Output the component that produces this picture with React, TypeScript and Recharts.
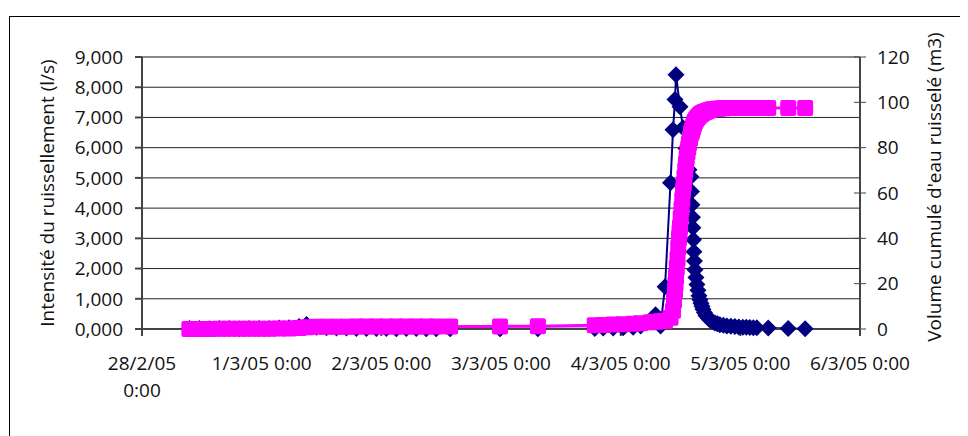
import React from "react";
import {
  LineChart,
  Line,
  XAxis,
  YAxis,
  CartesianGrid,
  ReferenceLine,
} from "recharts";

// hours since 28/2/05 0:00
const times = [
  9.5, 11.5, 13.5, 15.5, 17.5, 19.5, 21.5, 23.5, 25.5, 27.5, 29.5, 31.5, 33, 35,
  37, 39, 41, 43, 45, 47, 49, 51, 53, 55, 57, 59, 61.8,
  71.8, 79.4,
  90.8, 92.5, 94.5, 96.5, 98.5, 100, 102, 103, 104,
  104.9, 106, 106.5, 106.7, 106.9, 107, 107.1, 107.25, 107.4, 107.55, 107.7,
  107.8, 107.9, 108.05, 108.2, 108.35, 108.5, 108.65, 108.8, 108.95, 109.1,
  109.25, 109.4, 109.55, 109.7, 109.9, 110.1, 110.2, 110.3, 110.4, 110.5, 110.6,
  110.7, 110.8, 110.9, 111.1, 111.3, 111.5, 111.7, 111.9, 112.1, 112.3, 112.5,
  112.8, 113.1, 113.5, 113.9, 114.4, 114.9, 115.4, 115.9, 116.6, 117.3, 118.1,
  118.9, 119.7, 120.5, 121.2, 121.9, 122.6, 123.3, 125.6, 129.6, 133,
];

// intensité du ruissellement (l/s) — null where only the volume was logged
const intensity = [
  0.02, 0.02, 0.01, 0.02, 0.02, 0.01, 0.02, 0.02, 0.02, 0.03, 0.04, 0.08, 0.15,
  0.06, 0.04, 0.03, 0.03, 0.02, 0.02, 0.02, 0.02, 0.01, 0.02, 0.02, 0.01, 0.01,
  0.01,
  0.01, 0.01,
  0.02, 0.03, 0.03, 0.04, 0.06, 0.1, 0.25, 0.47, 0.1,
  1.4, 4.84, 6.59, null, 7.59, null, 8.41, null, null, null, null,
  null, 7.35, null, null, null, 6.66, null, null, null, 5.97,
  null, null, null, 5.27, null, 5.04, 4.55, 4.11, 3.7, 3.35, 2.95,
  2.56, 2.25, 1.96, 1.7, 1.47, 1.28, 1.1, 0.97, 0.85, 0.75, 0.65,
  0.55, 0.45, 0.37, 0.3, 0.25, 0.2, 0.17, 0.14, 0.12, 0.1, 0.09,
  0.08, 0.07, 0.06, 0.055, 0.05, 0.045, 0.04, 0.03, 0.02, 0.01,
];

// volume cumulé (m3)
const volume = [
  0, 0.02, 0.04, 0.06, 0.08, 0.1, 0.12, 0.14, 0.16, 0.18, 0.22, 0.4, 0.8, 0.95,
  1.0, 1.02, 1.04, 1.05, 1.06, 1.07, 1.08, 1.09, 1.1, 1.1, 1.1, 1.1, 1.1,
  1.15, 1.2,
  1.7, 1.8, 1.95, 2.1, 2.3, 2.5, 3.0, 3.2, 3.4,
  3.6, 5, 8, 12.5, 17, 20, 23, 27, 31, 36, 40,
  42.5, 45, 49, 53, 57, 61, 64, 67, 70, 73,
  75.5, 78, 80, 82, 84, 86, 86.8, 87.5, 88.2, 89, 89.8,
  90.5, 91, 91.5, 92.3, 93, 93.5, 94, 94.4, 94.8, 95.1, 95.4,
  95.7, 96, 96.3, 96.6, 96.9, 97.1, 97.2, 97.3, 97.4, 97.5, 97.5,
  97.5, 97.5, 97.5, 97.5, 97.5, 97.5, 97.5, 97.5, 97.5, 97.5,
];

const xTicks = [0, 24, 48, 72, 96, 120, 144];
const xTickLabels = [
  "28/2/05 0:00",
  "1/3/05 0:00",
  "2/3/05 0:00",
  "3/3/05 0:00",
  "4/3/05 0:00",
  "5/3/05 0:00",
  "6/3/05 0:00",
];
const leftTicks = [0, 1, 2, 3, 4, 5, 6, 7, 8, 9];
const rightTicks = [0, 20, 40, 60, 80, 100, 120];

const data = times.map((t, i) => ({ t, q: intensity[i], v: volume[i] }));

const FONT = "'Open Sans', sans-serif";
const FS = 19;

const XTick = (props: any) => {
  const { x, y, payload } = props;
  const label = xTickLabels[xTicks.indexOf(payload.value)] ?? "";
  const lines = payload.value === 0 ? label.split(" ") : [label];
  return (
    <text x={x} y={y} textAnchor="middle" fontSize={FS} fontFamily={FONT} fill="#111">
      {lines.map((l, i) => (
        <tspan key={i} x={x} dy={i === 0 ? 30 : 27}>
          {l}
        </tspan>
      ))}
    </text>
  );
};

const RightTick = (props: any) => {
  const { x, y, payload } = props;
  const ax = x - 17;
  return (
    <g>
      <line x1={ax - 6} x2={ax + 6} y1={y} y2={y} stroke="#444" strokeWidth={1} />
      <text x={x} y={y} dy="0.35em" textAnchor="start" fontSize={FS} fontFamily={FONT} fill="#111">
        {payload.value}
      </text>
    </g>
  );
};

const Diamond = (p: any) => {
  if (p.cx == null || p.cy == null || p.value == null) return <g key={p.index} />;
  const r = 8.5;
  return (
    <polygon
      key={p.index}
      points={`${p.cx},${p.cy - r} ${p.cx + r},${p.cy} ${p.cx},${p.cy + r} ${p.cx - r},${p.cy}`}
      fill="#000080"
    />
  );
};

const Square = (p: any) => {
  if (p.cx == null || p.cy == null) return <g key={p.index} />;
  const s = 16;
  return (
    <rect key={p.index} x={p.cx - s / 2} y={p.cy - s / 2} width={s} height={s} rx={2} fill="#ff00ff" />
  );
};

const titleStyle: React.CSSProperties = {
  position: "absolute",
  transform: "translate(-50%, -50%) rotate(-90deg)",
  whiteSpace: "nowrap",
  fontFamily: FONT,
  fontSize: FS,
  color: "#111",
};

export default function App() {
  return (
    <div style={{ position: "relative", width: 960, height: 428, fontFamily: FONT }}>
      <div
        style={{
          position: "absolute",
          left: 1,
          top: 8,
          width: 959,
          height: 420,
          borderLeft: "1px solid #000",
          borderTop: "1px solid #000",
          boxSizing: "border-box",
        }}
      />
      <LineChart
        width={960}
        height={428}
        data={data}
        margin={{ top: 49, right: 0, bottom: 27, left: 0 }}
        style={{ position: "absolute", left: 0, top: 0 }}
      >
        <CartesianGrid vertical={false} stroke="#222" yAxisId="q" />
        <XAxis
          dataKey="t"
          type="number"
          domain={[0, 144]}
          ticks={xTicks}
          height={80}
          tickSize={7}
          tickMargin={4}
          tick={<XTick />}
          stroke="#444"
          strokeWidth={2}
          interval={0}
        />
        <YAxis
          yAxisId="q"
          orientation="left"
          domain={[0, 9]}
          ticks={leftTicks}
          width={134}
          tickSize={7}
          tickMargin={12}
          tickFormatter={(v: number) => v.toFixed(3).replace(".", ",")}
          tick={{ fontSize: FS, fontFamily: FONT, fill: "#111" }}
          stroke="#444"
          strokeWidth={2}
          interval={0}
        />
        <YAxis
          yAxisId="v"
          orientation="right"
          domain={[0, 120]}
          ticks={rightTicks}
          width={108}
          tickSize={6}
          tickMargin={11}
          tickLine={false}
          tick={<RightTick />}
          stroke="#444"
          strokeWidth={2}
          interval={0}
        />
        <ReferenceLine y={9} yAxisId="q" stroke="#888" strokeWidth={2} />
        <Line
          yAxisId="q"
          dataKey="q"
          type="linear"
          stroke="#000080"
          strokeWidth={2}
          dot={Diamond}
          activeDot={false}
          connectNulls
          isAnimationActive={false}
        />
        <Line
          yAxisId="v"
          dataKey="v"
          type="linear"
          stroke="#ff00ff"
          strokeWidth={3}
          dot={Square}
          activeDot={false}
          isAnimationActive={false}
        />
      </LineChart>
      <div style={{ ...titleStyle, left: 39, top: 185 }}>Intensité du ruissellement (l/s)</div>
      <div style={{ ...titleStyle, left: 926, top: 179 }}>Volume cumulé d'eau ruisselé (m3)</div>
    </div>
  );
}
